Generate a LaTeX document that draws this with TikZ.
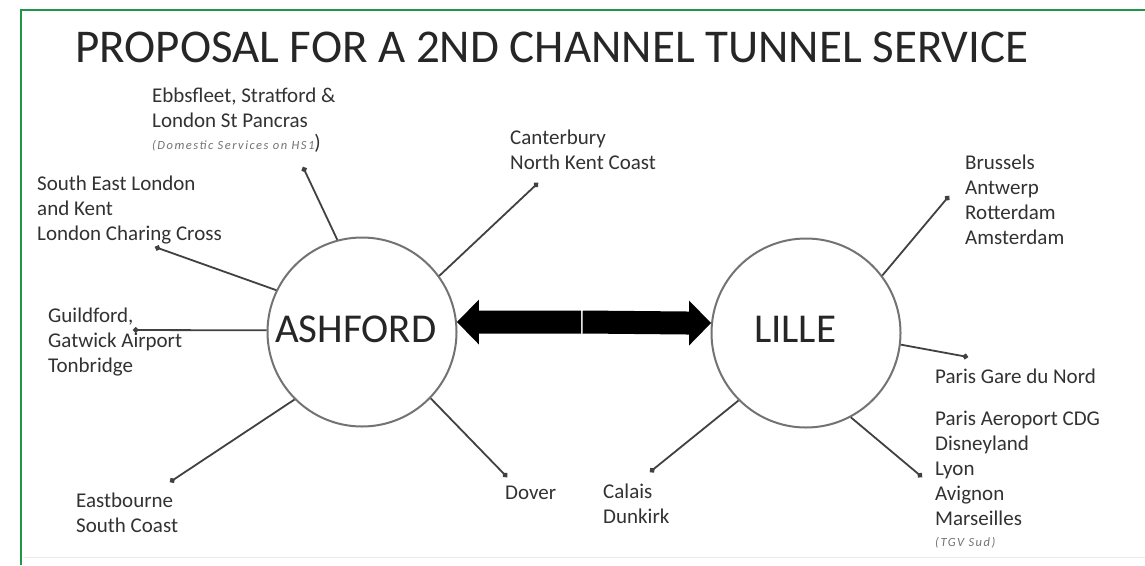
\documentclass[tikz,border=0pt]{standalone}
\usepackage{fontspec}
\setmainfont{Carlito}
\newfontfamily\notefont[LetterSpace=12]{Carlito}
\newcommand\mynotetxt{\notefont\itshape\fontsize{12.5}{14}\selectfont\color{notegray}}
\usetikzlibrary{arrows.meta,calc}
\definecolor{framegreen}{RGB}{34,150,72}
\definecolor{txtgray}{RGB}{50,50,50}
\definecolor{notegray}{RGB}{115,115,115}
\definecolor{circgray}{RGB}{115,115,115}
\definecolor{linegray}{RGB}{65,65,65}
\tikzset{
  framestyle/.style={draw=framegreen,line width=2.5pt},
  hub/.style={circle,draw=circgray,line width=2pt,minimum size=189pt,inner sep=0pt},
  hubtext/.style={font=\fontsize{41}{48}\selectfont,text=black!85,inner sep=0pt,anchor=base west},
  spoke/.style={draw=linegray,line width=1.8pt,-{Circle[length=5.5pt]}},
  place/.style={font=\fontsize{21}{25}\selectfont,text=txtgray,align=left,inner sep=0pt,anchor=base west},
  bigarrow/.style={fill=black}
}
\begin{document}
\begin{tikzpicture}[x=1pt,y=-1pt]
\useasboundingbox (0,0) rectangle (1145,565);
\fill[white] (0,0) rectangle (1145,565);
% frame
\draw[framestyle] (21,565) -- (21,10) -- (1145,10);
\draw[gray!15,line width=1pt] (23,557) -- (1145,557);
% title
\node[font=\fontsize{47}{54}\selectfont,text=black!85,inner sep=0pt,anchor=base west] (title) at (75,62) {PROPOSAL FOR A 2ND CHANNEL TUNNEL SERVICE};
% hubs
\node[hub] (ashford) at (362,332) {};
\node[hub] (lille) at (806,333) {};
\node[hubtext] (ashfordtxt) at (275,342) {ASHFORD};
\node[hubtext] (lilletxt) at (754,342) {LILLE};
% double arrow
\coordinate (mid) at (582,322);
\fill[bigarrow] (ashford.6) -- ++(22,-22.5) -- ++(0,11) -- ([xshift=-1pt,yshift=11.5pt]mid) -- ([xshift=-1pt,yshift=-11.5pt]mid) -- ($(ashford.6)+(22,11.5)$) -- ++(0,11) -- cycle;
\fill[bigarrow] (lille.174) -- ++(-22,-22.5) -- ++(0,11) -- ([xshift=1pt,yshift=11.5pt]mid) -- ([xshift=1pt,yshift=-11.5pt]mid) -- ($(lille.174)+(-22,11.5)$) -- ++(0,11) -- cycle;
\draw[gray!70,line width=0.8pt] ([yshift=11.5pt]mid) -- ([yshift=-11.5pt]mid);
% spoke ends
\coordinate (eb) at (303,167);
\coordinate (cc) at (155,247);
\coordinate (gu) at (133,330);
\coordinate (ea) at (170,482);
\coordinate (dv) at (507,477);
\coordinate (ca) at (538,183);
\coordinate (br) at (949,196);
\coordinate (pg) at (968,357);
\coordinate (ly) at (922,477);
\coordinate (cl) at (650,472);
% spokes
\draw[spoke] (ashford.105.5) -- (eb);
\draw[spoke] (ashford.154) -- (cc);
\draw[spoke] (ashford.179) -- (gu);
\draw[spoke] (ashford.-135.4) -- (ea);
\draw[spoke] (ashford.-44) -- (dv);
\draw[spoke] (ashford.36) -- (ca);
\draw[spoke] (lille.37.3) -- (br);
\draw[spoke] (lille.-7.3) -- (pg);
\draw[spoke] (lille.-62.6) -- (ly);
\draw[spoke] (lille.-135.4) -- (cl);
% labels (anchor = baseline of last line)
\node[place] (ebb) at (152,149) {Ebbsfleet, Stratford \&\\London St Pancras\\[-3pt]{\mynotetxt (Domestic Services on HS1}{)}};
\node[place] (sel) at (37,240) {South East London\\and Kent\\London Charing Cross};
\node[place] (gui) at (48,372) {Guildford,\\Gatwick Airport\\Tonbridge};
\node[place] (eas) at (76,532) {Eastbourne\\South Coast};
\node[place] (can) at (510,169) {Canterbury\\North Kent Coast};
\node[place] (dov) at (505,499) {Dover};
\node[place] (cal) at (603,523) {Calais\\Dunkirk};
\node[place] (bru) at (965,244) {Brussels\\Antwerp\\Rotterdam\\Amsterdam};
\node[place] (pgn) at (935,383) {Paris Gare du Nord};
\node[place] (pac) at (935,546) {Paris Aeroport CDG\\Disneyland\\Lyon\\Avignon\\Marseilles\\[-4pt]{\mynotetxt (TGV Sud)}};
\end{tikzpicture}
\end{document}
